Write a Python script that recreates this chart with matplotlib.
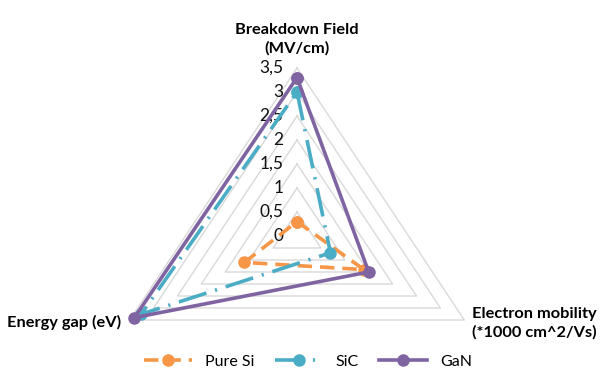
import matplotlib.pyplot as plt
import numpy as np

plt.rcParams['font.family'] = ['Lato', 'DejaVu Sans']

categorias = ['Breakdown Field\n(MV/cm)', 'Electron mobility\n(*1000 cm^2/Vs)', 'Energy gap (eV)']
series = ['Pure Si', 'SiC', 'GaN']
pure_si = [0.3, 1.4, 1.1]
sic = [3.0, 0.7, 3.26]
gan = [3.3, 1.5, 3.4]
ticks = [0, 0.5, 1, 1.5, 2, 2.5, 3, 3.5]
tick_labels = ['0', '0,5', '1', '1,5', '2', '2,5', '3', '3,5']

colores = ['#F79646', '#4BACC6', '#8064A2']
estilos = [(0, (4, 2.2)), (0, (8, 2.5, 0.6, 2.5)), '-']

angulos = np.array([0, 2 * np.pi / 3, 4 * np.pi / 3])

def xy(valores):
    r = np.array(list(valores) + [valores[0]])
    a = np.append(angulos, angulos[0])
    return r * np.sin(a), r * np.cos(a)

fig = plt.figure(figsize=(6.16, 3.83), dpi=100)
ax = fig.add_axes([0, 0, 1, 1])
ax.set_xlim(-297 / 55.2, (616 - 297) / 55.2)
ax.set_ylim(-147 / 48, (383 - 147) / 48)
ax.axis('off')

# rejilla triangular
for t in ticks[1:]:
    gx, gy = xy([t, t, t])
    ax.plot(gx, gy, color='#d9d9d9', lw=1, zorder=1)

for t, lab in zip(ticks, tick_labels):
    ax.text(-0.25, t, lab, ha='right', va='center', fontsize=12.5, color='#111111')

for nombre, vals, c, ls in zip(series, [pure_si, sic, gan], colores, estilos):
    px, py = xy(vals)
    ax.plot(px, py, color=c, lw=2.6, linestyle=ls, marker='o', markersize=8,
            label=nombre, zorder=3)

ax.text(0, 4.1, categorias[0], ha='center', va='center', fontsize=11.8,
        fontweight='bold', linespacing=1.4)
ax.text(3.17, -1.82, categorias[1], ha='left', va='center', fontsize=11.8,
        fontweight='bold', linespacing=1.4)
ax.text(-5.25, -1.8, categorias[2], ha='left', va='center', fontsize=11.8,
        fontweight='bold')

fig.legend(loc='lower center', bbox_to_anchor=(0.5, 0.0), ncol=3, frameon=False,
           fontsize=11.5, handlelength=3.0, columnspacing=1.3, handletextpad=0.8)

plt.savefig('out.png', dpi=100)
